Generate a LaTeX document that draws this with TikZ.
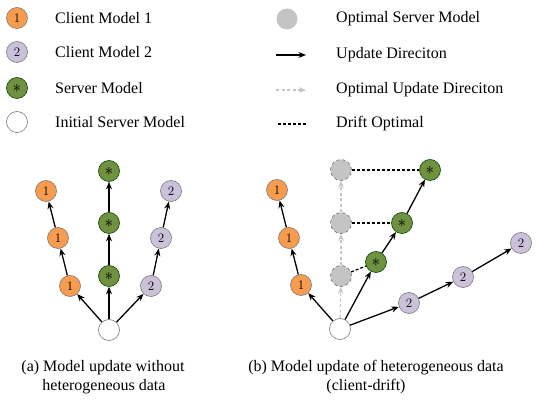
\documentclass[tikz,border=0pt]{standalone}
\usepackage{fontspec}
\setmainfont{Liberation Serif}
\newfontfamily\lmfont{Latin Modern Roman}
\usetikzlibrary{arrows.meta}
\definecolor{orangeC}{HTML}{F79B4F}
\definecolor{purpleC}{HTML}{CCC1DB}
\definecolor{greenC}{HTML}{6F9140}
\definecolor{grayC}{HTML}{C4C4C4}
\definecolor{rimC}{HTML}{7A7A7A}
\newcommand{\srvmark}{{\fontsize{19}{19}\selectfont$\ast$}}
\begin{document}
\begin{tikzpicture}[x=1pt,y=-1pt,
  mdl/.style={circle,draw=rimC,line width=0.6pt,minimum size=21pt,inner sep=0pt,font=\lmfont\fontsize{13}{13}\selectfont},
  cone/.style={mdl,fill=orangeC},
  ctwo/.style={mdl,fill=purpleC},
  srv/.style={mdl,fill=greenC,draw=green!30!black},
  init/.style={mdl,fill=white,minimum size=21pt},
  opt/.style={mdl,fill=grayC,dashed,draw=gray!80!black},
  upd/.style={-{Stealth[length=7.5pt,width=6pt]},line width=1.3pt,black},
  oupd/.style={-{Stealth[length=7pt,width=5.5pt]},line width=1.1pt,grayC,dash pattern=on 3pt off 2.5pt},
  drift/.style={line width=1.3pt,black,dash pattern=on 3pt off 2pt},
  lbl/.style={anchor=west,font=\fontsize{16}{18}\selectfont,inner sep=0pt},
  captxt/.style={align=center,font=\fontsize{16}{19}\selectfont,inner sep=0pt}]
\useasboundingbox (0,0) rectangle (550,401);
% legend left
\node[cone] (l1) at (17,18) {1};
\node[lbl] (t1) at (55,18) {Client Model 1};
\node[ctwo] (l2) at (17,52) {2};
\node[lbl] (t2) at (55,52) {Client Model 2};
\node[srv] (l3) at (17,88) {\srvmark};
\node[lbl] (t3) at (55,88) {Server Model};
\node[init] (l4) at (17,122) {};
\node[lbl] (t4) at (55,122) {Initial Server Model};
% legend right
\node[mdl,fill=grayC,draw=none] (r1) at (287,19) {};
\node[lbl] (u1) at (336,19) {Optimal Server Model};
\coordinate (a1) at (276,55); \coordinate (a2) at (306,55);
\draw[upd] (a1) -- (a2);
\node[lbl] (u2) at (336,55) {Update Direciton};
\coordinate (b1) at (276,90); \coordinate (b2) at (306,90);
\draw[oupd] (b1) -- (b2);
\node[lbl] (u3) at (336,90) {Optimal Update Direciton};
\coordinate (c1) at (278,124); \coordinate (c2) at (306,124);
\draw[drift] (c1) -- (c2);
\node[lbl] (u4) at (336,124) {Drift Optimal};
% diagram (a)
\node[init] (A0) at (109,330) {};
\node[cone] (A13) at (70,286) {1};
\node[cone] (A12) at (58,238) {1};
\node[cone] (A11) at (46,191) {1};
\node[srv] (AS3) at (109,276) {\srvmark};
\node[srv] (AS2) at (109,223) {\srvmark};
\node[srv] (AS1) at (109,171) {\srvmark};
\node[ctwo] (A23) at (151,286) {2};
\node[ctwo] (A22) at (161,238) {2};
\node[ctwo] (A21) at (171,191) {2};
\draw[upd] (A0) -- (A13); \draw[upd] (A13) -- (A12); \draw[upd] (A12) -- (A11);
\draw[upd] (A0) -- (AS3); \draw[upd] (AS3) -- (AS2); \draw[upd] (AS2) -- (AS1);
\draw[upd] (A0) -- (A23); \draw[upd] (A23) -- (A22); \draw[upd] (A22) -- (A21);
% diagram (b)
\node[init] (B0) at (340,329) {};
\node[cone] (B13) at (301,285) {1};
\node[cone] (B12) at (289,238) {1};
\node[cone] (B11) at (277,190) {1};
\node[opt] (G3) at (341,276) {};
\node[opt] (G2) at (341,223) {};
\node[opt] (G1) at (341,170) {};
\node[srv] (BS3) at (376,262) {\srvmark};
\node[srv] (BS2) at (402,223) {\srvmark};
\node[srv] (BS1) at (430,170) {\srvmark};
\node[ctwo] (B23) at (409,303) {2};
\node[ctwo] (B22) at (463,277) {2};
\node[ctwo] (B21) at (521,243) {2};
\draw[oupd] (B0) -- (G3); \draw[oupd] (G3) -- (G2); \draw[oupd] (G2) -- (G1);
\draw[drift] (G3) -- (BS3); \draw[drift] (G2) -- (BS2); \draw[drift] (G1) -- (BS1);
\draw[upd] (B0) -- (B13); \draw[upd] (B13) -- (B12); \draw[upd] (B12) -- (B11);
\draw[upd] (B0) -- (BS3); \draw[upd] (BS3) -- (BS2); \draw[upd] (BS2) -- (BS1);
\draw[upd] (B0) -- (B23); \draw[upd] (B23) -- (B22); \draw[upd] (B22) -- (B21);
% captions
\node[captxt] (capa1) at (103,368) {(a) Model update without};
\node[captxt] (capa2) at (104,387) {heterogeneous data};
\node[captxt] (capb1) at (376,368) {(b) Model update of heterogeneous data};
\node[captxt] (capb2) at (366,387) {(client-drift)};
\end{tikzpicture}
\end{document}
